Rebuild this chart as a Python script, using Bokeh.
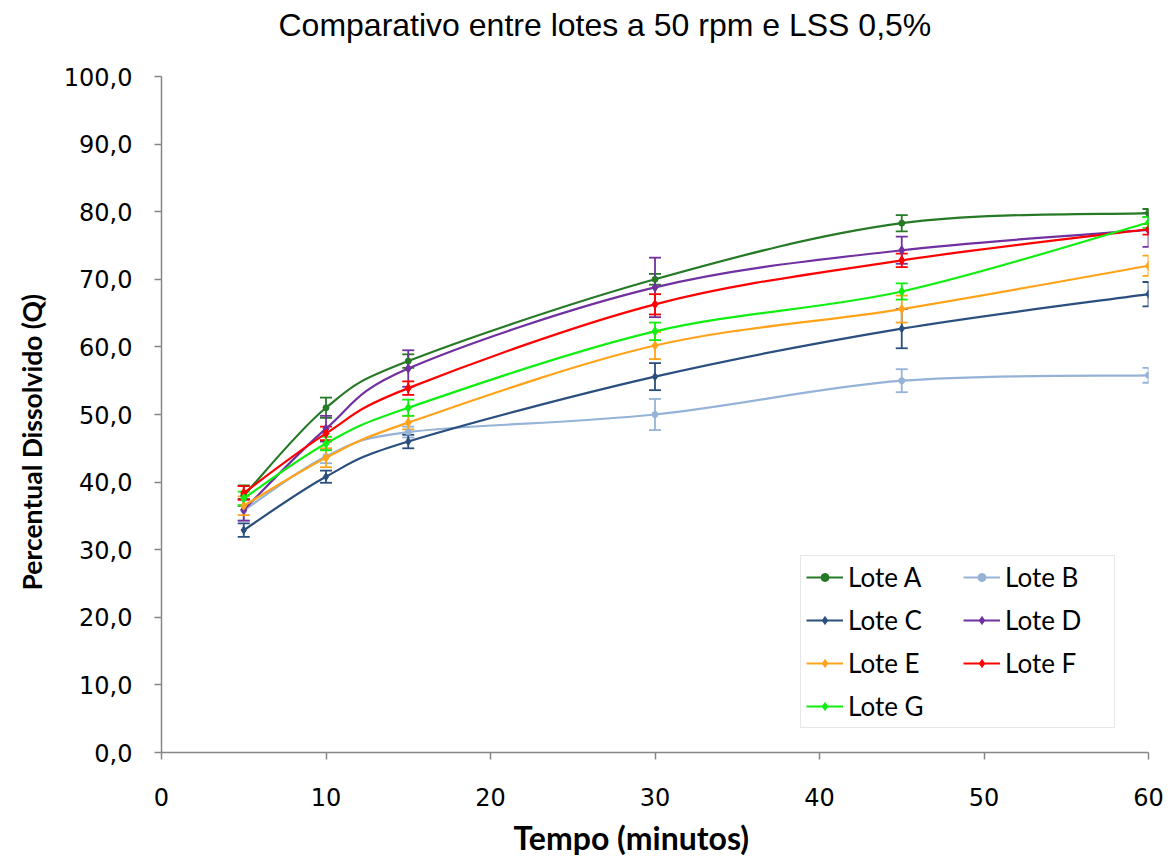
from bokeh.plotting import figure
from bokeh.models import (Range1d, FixedTicker, Whisker, TeeHead, ColumnDataSource,
                          Legend, LegendItem, Title)
from bokeh.embed import file_html
from bokeh.resources import INLINE

tempo = [5, 10, 15, 30, 45, 60]

lote_a = [38.0, 51.0, 57.9, 70.0, 78.3, 79.8]
lote_a_err = [1.5, 1.5, 1.0, 0.8, 1.2, 0.6]
lote_b = [35.8, 43.8, 47.4, 50.0, 55.0, 55.8]
lote_b_err = [1.5, 1.0, 0.8, 2.3, 1.7, 1.1]
lote_c = [32.9, 40.8, 46.0, 55.6, 62.7, 67.8]
lote_c_err = [1.0, 0.9, 1.0, 2.0, 2.9, 1.8]
lote_d = [35.9, 47.9, 56.8, 68.8, 74.3, 77.3]
lote_d_err = [1.6, 1.9, 2.7, 4.4, 2.0, 2.5]
lote_e = [36.5, 43.6, 48.8, 60.2, 65.6, 72.0]
lote_e_err = [1.4, 1.4, 1.0, 2.0, 2.0, 1.5]
lote_f = [38.4, 47.2, 53.9, 66.3, 72.8, 77.4]
lote_f_err = [1.0, 1.0, 1.0, 1.5, 1.0, 0.8]
lote_g = [37.6, 45.7, 51.0, 62.3, 68.2, 78.4]
lote_g_err = [1.0, 1.0, 1.2, 1.3, 1.2, 0.8]

series_names = ["Lote A", "Lote B", "Lote C", "Lote D", "Lote E", "Lote F", "Lote G"]
series_vals = [lote_a, lote_b, lote_c, lote_d, lote_e, lote_f, lote_g]
series_errs = [lote_a_err, lote_b_err, lote_c_err, lote_d_err, lote_e_err, lote_f_err, lote_g_err]
series_colors = ["#267a26", "#95b3d7", "#2a4f7e", "#7030a0", "#ffa31a", "#ff0000", "#11ee11"]
series_markers = ["circle", "circle", "diamond", "diamond", "diamond", "diamond", "diamond"]
series_msize = [6, 6, 8, 9, 9, 9, 9]
# legend is filled column-major: left column A, C, E, G; right column B, D, F
legend_order = ["Lote A", "Lote C", "Lote E", "Lote G", "Lote B", "Lote D", "Lote F"]

y_ticks = [0, 10, 20, 30, 40, 50, 60, 70, 80, 90, 100]
y_tick_labels = ["0,0", "10,0", "20,0", "30,0", "40,0", "50,0", "60,0", "70,0", "80,0", "90,0", "100,0"]
x_ticks = [0, 10, 20, 30, 40, 50, 60]

TITLE = "Comparativo entre lotes a 50 rpm e LSS 0,5%"
X_LABEL = "Tempo (minutos)"
Y_LABEL = "Percentual Dissolvido (Q)"

p = figure(width=1175, height=865, output_backend="svg", toolbar_location=None,
           x_range=Range1d(0, 60), y_range=Range1d(0, 100),
           min_border_left=161, min_border_right=27, min_border_top=76, min_border_bottom=113)
p.background_fill_color = "white"
p.border_fill_color = "white"
p.outline_line_color = None
p.xgrid.visible = False
p.ygrid.visible = False

# spacer between frame and title, then the title itself (stacked outward)
p.add_layout(Title(text=" ", text_font_size="2px", standoff=28), "above")
p.add_layout(Title(text=TITLE, align="left", offset=117, standoff=4,
                   text_font="Liberation Sans", text_font_size="32px",
                   text_font_style="normal", text_color="#000000"), "above")

axis_col = "#868686"
for ax in (p.xaxis[0], p.yaxis[0]):
    ax.axis_line_color = axis_col
    ax.axis_line_width = 1.5
    ax.major_tick_line_color = axis_col
    ax.major_tick_line_width = 1.5
    ax.major_tick_in = 0
    ax.major_tick_out = 7
    ax.minor_tick_line_color = None
    ax.major_label_text_font = "DejaVu Sans"
    ax.major_label_text_font_size = "24px"
    ax.major_label_text_color = "#000000"

p.yaxis.ticker = FixedTicker(ticks=y_ticks)
p.yaxis.major_label_overrides = {t: l for t, l in zip(y_ticks, y_tick_labels)}
p.yaxis.major_label_standoff = 22

p.xaxis.ticker = FixedTicker(ticks=x_ticks)
p.xaxis.major_label_standoff = 28

# axis titles as side titles
p.add_layout(Title(text=Y_LABEL, align="left", offset=162, standoff=25,
                   text_font="Lato", text_font_style="bold", text_font_size="26.5px",
                   text_color="#000000"), "left")
p.add_layout(Title(text=X_LABEL, align="left", offset=352, standoff=15,
                   text_font="Lato", text_font_style="bold", text_font_size="32px",
                   text_color="#000000"), "below")


def bezier_controls(xs, ys):
    n = len(xs)
    x0, y0, x1, y1, cx0, cy0, cx1, cy1 = [], [], [], [], [], [], [], []
    for i in range(n - 1):
        pm = i - 1 if i > 0 else 0
        pp = i + 2 if i + 2 < n else n - 1
        x0.append(xs[i]); y0.append(ys[i])
        x1.append(xs[i + 1]); y1.append(ys[i + 1])
        cx0.append(xs[i] + (xs[i + 1] - xs[pm]) / 6.0)
        cy0.append(ys[i] + (ys[i + 1] - ys[pm]) / 6.0)
        cx1.append(xs[i + 1] - (xs[pp] - xs[i]) / 6.0)
        cy1.append(ys[i + 1] - (ys[pp] - ys[i]) / 6.0)
    return dict(x0=x0, y0=y0, x1=x1, y1=y1, cx0=cx0, cy0=cy0, cx1=cx1, cy1=cy1)


items = {}
for name, vals, errs, col, mk, ms in zip(series_names, series_vals, series_errs,
                                         series_colors, series_markers, series_msize):
    bsrc = ColumnDataSource(bezier_controls(tempo, vals))
    br = p.bezier(x0="x0", y0="y0", x1="x1", y1="y1", cx0="cx0", cy0="cy0",
                  cx1="cx1", cy1="cy1", source=bsrc, line_color=col, line_width=2.2)
    src = ColumnDataSource(dict(x=tempo, y=vals,
                                lo=[v - e for v, e in zip(vals, errs)],
                                hi=[v + e for v, e in zip(vals, errs)]))
    w = Whisker(base="x", lower="lo", upper="hi", source=src, dimension="height",
                line_color=col, line_width=1.8,
                lower_head=TeeHead(size=12, line_color=col, line_width=1.8),
                upper_head=TeeHead(size=12, line_color=col, line_width=1.8))
    p.add_layout(w)
    sr = p.scatter(x="x", y="y", source=src, marker=mk, size=ms,
                   fill_color=col, line_color=col)
    items[name] = LegendItem(label=name, renderers=[br, sr])

legend = Legend(items=[items[n] for n in legend_order], ncols=2, location=(639, 24),
                label_text_font="Lato", label_text_font_size="26px", label_text_color="#000000",
                glyph_width=37, glyph_height=20, label_standoff=5, label_width=104, spacing=11,
                padding=5, margin=0,
                border_line_color="#d0d0d0", border_line_width=1.5,
                background_fill_color="white", background_fill_alpha=1.0)
p.add_layout(legend, "center")

open("out.html", "w").write(file_html(p, INLINE))
